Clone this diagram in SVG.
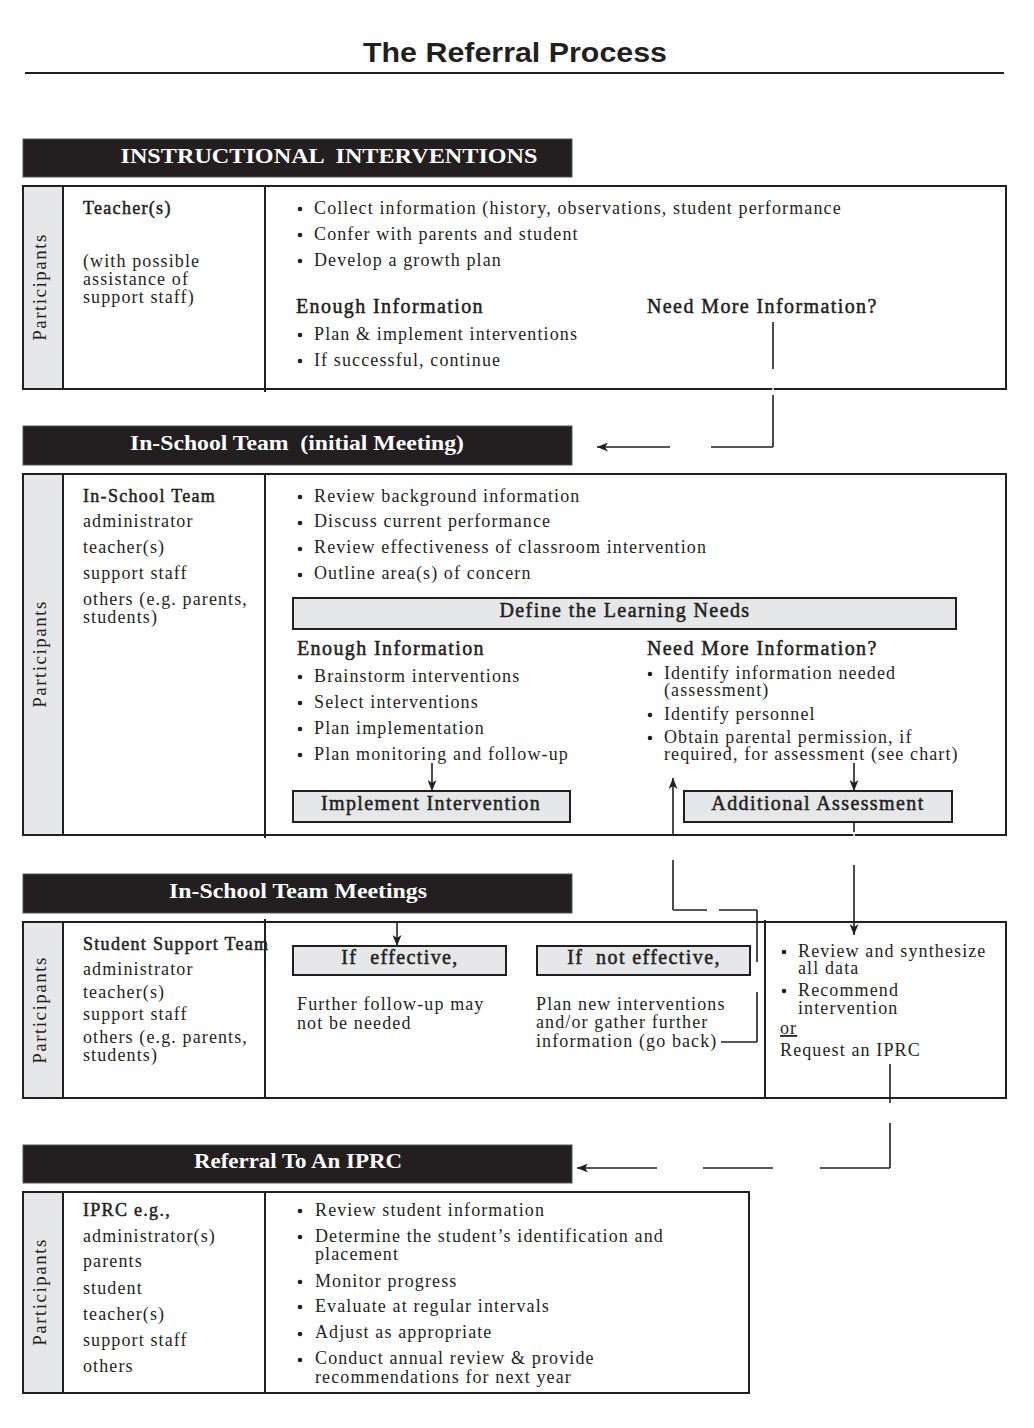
<svg xmlns="http://www.w3.org/2000/svg" width="1034" height="1428" viewBox="0 0 1034 1428">
<defs>
<style>
.t{font-family:"Liberation Serif","Times New Roman",serif;fill:#231f20}
.b{font-size:18px;letter-spacing:1.12px}
.h{font-size:20px;letter-spacing:1.4px;stroke:#231f20;stroke-width:0.5;white-space:pre}
.lb{font-size:18px;letter-spacing:1.3px;stroke:#231f20;stroke-width:0.5}
.p{font-size:19px;letter-spacing:1.5px}
.hd{font-family:"Liberation Serif","Times New Roman",serif;font-weight:bold;font-size:22px;fill:#fff;white-space:pre}
.box{fill:#fff;stroke:#231f20;stroke-width:2}
.gray{fill:#e6e7e8;stroke:#231f20;stroke-width:2}
.sub{fill:#e6e7e8;stroke:#231f20;stroke-width:2}
.bar{fill:#231f20;stroke:#555;stroke-width:1}
.div{stroke:#231f20;stroke-width:2}
.con{stroke:#231f20;stroke-width:1.6;fill:none}
.gap{stroke:#fff;stroke-width:1.5}
.dot{fill:#231f20}
</style>
<marker id="ah" markerUnits="userSpaceOnUse" markerWidth="12" markerHeight="9" refX="11" refY="4.5" orient="auto">
<path d="M0,0 L11,4.5 L0,9 L3,4.5 z" fill="#231f20"/>
</marker>
</defs>
<rect width="1034" height="1428" fill="#fff"/>

<g id="title">
<text x="515" y="62" text-anchor="middle" font-family="Liberation Sans, Arial, sans-serif" font-weight="bold" font-size="28" fill="#231f20" textLength="304" lengthAdjust="spacingAndGlyphs">The Referral Process</text>
<line x1="25" y1="73" x2="1004" y2="73" stroke="#231f20" stroke-width="2"/>
</g>

<!-- Section 1 -->
<g id="hdr-instructional">
<rect class="bar" x="23" y="139" width="549" height="38"/>
<text class="hd" x="329" y="163" text-anchor="middle" textLength="417" lengthAdjust="spacingAndGlyphs">INSTRUCTIONAL  INTERVENTIONS</text>
</g>
<g id="box-instructional">
<rect class="box" x="23" y="186" width="983" height="203"/>
<rect class="gray" x="23" y="186" width="40" height="203"/>
<line class="div" x1="265" y1="186" x2="265" y2="392"/>
<text class="t p" transform="translate(46,287) rotate(-90)" text-anchor="middle">Participants</text>
<text class="t lb" x="83" y="214">Teacher(s)</text>
<text class="t b" x="83" y="267">(with possible<tspan x="83" dy="18">assistance of</tspan><tspan x="83" dy="18">support staff)</tspan></text>
<circle class="dot" cx="300" cy="209" r="2.3"/><text class="t b" x="314" y="214">Collect information (history, observations, student performance</text>
<circle class="dot" cx="300" cy="235" r="2.3"/><text class="t b" x="314" y="240">Confer with parents and student</text>
<circle class="dot" cx="300" cy="261" r="2.3"/><text class="t b" x="314" y="266">Develop a growth plan</text>
<text class="t h" x="296" y="313">Enough Information</text>
<text class="t h" x="647" y="313">Need More Information?</text>
<circle class="dot" cx="300" cy="335" r="2.3"/><text class="t b" x="314" y="340">Plan &amp; implement interventions</text>
<circle class="dot" cx="300" cy="361" r="2.3"/><text class="t b" x="314" y="366">If successful, continue</text>
</g>

<!-- Section 2 -->
<g id="hdr-inschool-initial">
<rect class="bar" x="23" y="426" width="549" height="39"/>
<text class="hd" x="297" y="450" text-anchor="middle" textLength="334" lengthAdjust="spacingAndGlyphs">In-School Team  (initial Meeting)</text>
</g>
<g id="box-inschool-initial">
<rect class="box" x="23" y="474" width="983" height="361"/>
<rect class="gray" x="23" y="474" width="40" height="361"/>
<line class="div" x1="265" y1="474" x2="265" y2="838"/>
<text class="t p" transform="translate(46,654) rotate(-90)" text-anchor="middle">Participants</text>
<text class="t lb" x="83" y="502">In-School Team</text>
<text class="t b" x="83" y="527">administrator</text>
<text class="t b" x="83" y="553">teacher(s)</text>
<text class="t b" x="83" y="579">support staff</text>
<text class="t b" x="83" y="605">others (e.g. parents,<tspan x="83" dy="18">students)</tspan></text>
<circle class="dot" cx="300" cy="497" r="2.3"/><text class="t b" x="314" y="502">Review background information</text>
<circle class="dot" cx="300" cy="523" r="2.3"/><text class="t b" x="314" y="527">Discuss current performance</text>
<circle class="dot" cx="300" cy="549" r="2.3"/><text class="t b" x="314" y="553">Review effectiveness of classroom intervention</text>
<circle class="dot" cx="300" cy="575" r="2.3"/><text class="t b" x="314" y="579">Outline area(s) of concern</text>
<text class="t h" x="297" y="655">Enough Information</text>
<circle class="dot" cx="300" cy="677" r="2.3"/><text class="t b" x="314" y="682">Brainstorm interventions</text>
<circle class="dot" cx="300" cy="703" r="2.3"/><text class="t b" x="314" y="708">Select interventions</text>
<circle class="dot" cx="300" cy="729" r="2.3"/><text class="t b" x="314" y="734">Plan implementation</text>
<circle class="dot" cx="300" cy="755" r="2.3"/><text class="t b" x="314" y="760">Plan monitoring and follow-up</text>
<text class="t h" x="647" y="655">Need More Information?</text>
<circle class="dot" cx="650" cy="674" r="2.3"/><text class="t b" x="664" y="679">Identify information needed<tspan x="664" dy="17">(assessment)</tspan></text>
<circle class="dot" cx="650" cy="715" r="2.3"/><text class="t b" x="664" y="720">Identify personnel</text>
<circle class="dot" cx="650" cy="738" r="2.3"/><text class="t b" x="664" y="743">Obtain parental permission, if<tspan x="664" dy="17">required, for assessment (see chart)</tspan></text>
</g>
<g id="define-needs">
<rect class="sub" x="293" y="598" width="663" height="31"/>
<text class="t h" x="625" y="617" text-anchor="middle">Define the Learning Needs</text>
</g>
<g id="implement-intervention">
<rect class="sub" x="293" y="791" width="277" height="31"/>
<text class="t h" x="431" y="810" text-anchor="middle">Implement Intervention</text>
</g>
<g id="additional-assessment">
<rect class="sub" x="684" y="791" width="268" height="31"/>
<text class="t h" x="818" y="810" text-anchor="middle">Additional Assessment</text>
</g>

<!-- Section 3 -->
<g id="hdr-inschool-meetings">
<rect class="bar" x="23" y="874" width="549" height="39"/>
<text class="hd" x="298" y="898" text-anchor="middle" textLength="258" lengthAdjust="spacingAndGlyphs">In-School Team Meetings</text>
</g>
<g id="box-inschool-meetings">
<rect class="box" x="23" y="922" width="983" height="176"/>
<rect class="gray" x="23" y="922" width="40" height="176"/>
<text class="t p" transform="translate(46,1010) rotate(-90)" text-anchor="middle">Participants</text>
<text class="t lb" x="83" y="950">Student Support Team</text>
<line class="div" x1="265" y1="919" x2="265" y2="1098"/>
<line class="div" x1="765" y1="920" x2="765" y2="1098"/>
<text class="t b" x="83" y="975">administrator</text>
<text class="t b" x="83" y="998">teacher(s)</text>
<text class="t b" x="83" y="1020">support staff</text>
<text class="t b" x="83" y="1043">others (e.g. parents,<tspan x="83" dy="18">students)</tspan></text>
<text class="t b" x="297" y="1010">Further follow-up may<tspan x="297" dy="19">not be needed</tspan></text>
<text class="t b" x="536" y="1010">Plan new interventions<tspan x="536" dy="18">and/or gather further</tspan><tspan x="536" dy="19">information (go back)</tspan></text>
<circle class="dot" cx="784" cy="952" r="2.3"/><text class="t b" x="798" y="957">Review and synthesize<tspan x="798" dy="17">all data</tspan></text>
<circle class="dot" cx="784" cy="991" r="2.3"/><text class="t b" x="798" y="996">Recommend<tspan x="798" dy="18">intervention</tspan></text>
<text class="t b" x="780" y="1034" text-decoration="underline">or</text>
<text class="t b" x="780" y="1056">Request an IPRC</text>
</g>
<g id="if-effective">
<rect class="sub" x="293" y="946" width="213" height="29"/>
<text class="t h" x="400" y="964" text-anchor="middle">If  effective,</text>
</g>
<g id="if-not-effective">
<rect class="sub" x="537" y="946" width="213" height="29"/>
<text class="t h" x="644" y="964" text-anchor="middle">If  not effective,</text>
</g>

<!-- Section 4 -->
<g id="hdr-iprc">
<rect class="bar" x="23" y="1145" width="549" height="38"/>
<text class="hd" x="298" y="1168" text-anchor="middle" textLength="208" lengthAdjust="spacingAndGlyphs">Referral To An IPRC</text>
</g>
<g id="box-iprc">
<rect class="box" x="23" y="1192" width="726" height="201"/>
<rect class="gray" x="23" y="1192" width="40" height="201"/>
<line class="div" x1="265" y1="1192" x2="265" y2="1393"/>
<text class="t p" transform="translate(46,1292) rotate(-90)" text-anchor="middle">Participants</text>
<text class="t lb" x="83" y="1216">IPRC e.g.,</text>
<text class="t b" x="83" y="1242">administrator(s)</text>
<text class="t b" x="83" y="1267">parents</text>
<text class="t b" x="83" y="1294">student</text>
<text class="t b" x="83" y="1320">teacher(s)</text>
<text class="t b" x="83" y="1346">support staff</text>
<text class="t b" x="83" y="1372">others</text>
<circle class="dot" cx="300" cy="1211" r="2.3"/><text class="t b" x="315" y="1216">Review student information</text>
<circle class="dot" cx="300" cy="1237" r="2.3"/><text class="t b" x="315" y="1242">Determine the student’s identification and<tspan x="315" dy="18">placement</tspan></text>
<circle class="dot" cx="300" cy="1282" r="2.3"/><text class="t b" x="315" y="1287">Monitor progress</text>
<circle class="dot" cx="300" cy="1307" r="2.3"/><text class="t b" x="315" y="1312">Evaluate at regular intervals</text>
<circle class="dot" cx="300" cy="1334" r="2.3"/><text class="t b" x="315" y="1338">Adjust as appropriate</text>
<circle class="dot" cx="300" cy="1360" r="2.3"/><text class="t b" x="315" y="1364">Conduct annual review &amp; provide<tspan x="315" dy="19">recommendations for next year</tspan></text>
</g>

<g id="connectors">
<line class="gap" x1="773" y1="385" x2="773" y2="393"/>
<line class="con" x1="773" y1="322" x2="773" y2="369"/>
<line class="con" x1="773" y1="395" x2="773" y2="447"/>
<line class="con" x1="773" y1="447" x2="711" y2="447"/>
<line class="con" x1="670" y1="447" x2="597" y2="447" marker-end="url(#ah)"/>
<line class="con" x1="432" y1="763" x2="432" y2="791" marker-end="url(#ah)"/>
<line class="con" x1="854" y1="763" x2="854" y2="791" marker-end="url(#ah)"/>
<line class="gap" x1="854" y1="831" x2="854" y2="839"/>
<line class="con" x1="854" y1="822" x2="854" y2="832"/>
<line class="con" x1="854" y1="865" x2="854" y2="935" marker-end="url(#ah)"/>
<line class="con" x1="757" y1="1042" x2="721" y2="1042"/>
<line class="con" x1="757" y1="1042" x2="757" y2="992"/>
<line class="con" x1="757" y1="962" x2="757" y2="910"/>
<line class="con" x1="757" y1="910" x2="719" y2="910"/>
<line class="con" x1="707" y1="910" x2="673" y2="910"/>
<line class="con" x1="673" y1="910" x2="673" y2="860"/>
<line class="con" x1="673" y1="836" x2="673" y2="778" marker-end="url(#ah)"/>
<line class="con" x1="397" y1="922" x2="397" y2="946" marker-end="url(#ah)"/>
<line class="con" x1="890" y1="1064" x2="890" y2="1103"/>
<line class="con" x1="890" y1="1123" x2="890" y2="1168"/>
<line class="con" x1="890" y1="1168" x2="820" y2="1168"/>
<line class="con" x1="773" y1="1168" x2="703" y2="1168"/>
<line class="con" x1="657" y1="1168" x2="577" y2="1168" marker-end="url(#ah)"/>
</g>
</svg>
